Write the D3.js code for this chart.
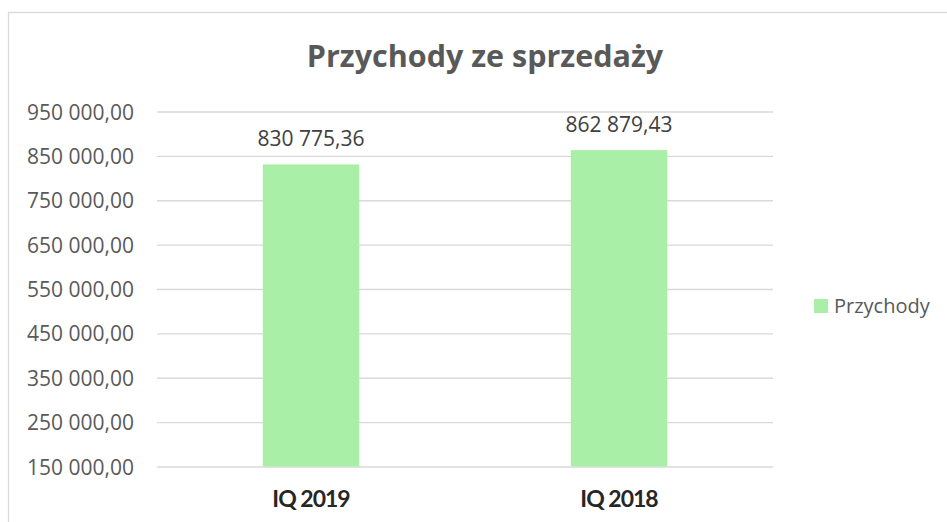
<!DOCTYPE html>
<html>
<head>
<meta charset="utf-8">
<script src="https://cdnjs.cloudflare.com/ajax/libs/d3/7.8.5/d3.min.js"></script>
<style>
  html, body { margin: 0; padding: 0; background: #fff; }
  svg { display: block; }
</style>
</head>
<body>
<div id="chart"></div>
<script>
// chart data
const categories = ["IQ 2019", "IQ 2018"];
const przychody = [830775.36, 862879.43];
const seriesName = "Przychody";
const yTicks = [150000, 250000, 350000, 450000, 550000, 650000, 750000, 850000, 950000];
const title = "Przychody ze sprzedaży";

const w = 947, h = 522;
const plot = { left: 157, right: 773, top: 111.5, bottom: 466.5 };

const pl = d3.formatLocale({ decimal: ",", thousands: "\u00a0", grouping: [3], currency: ["", " zł"] });
const fmt = pl.format(",.2f");

const svg = d3.select("#chart").append("svg")
  .attr("width", w)
  .attr("height", h);

svg.append("rect")
  .attr("width", w).attr("height", h)
  .style("fill", "#fff");

// chart area border (runs off the right / bottom edges)
svg.append("rect")
  .attr("x", 8.5).attr("y", 12.5)
  .attr("width", w).attr("height", h)
  .style("fill", "none")
  .style("stroke", "#d9d9d9")
  .style("stroke-width", 1.3);

const x = d3.scaleBand()
  .domain(categories)
  .range([plot.left, plot.right])
  .paddingInner(0.687)
  .paddingOuter(0.687 / 2);

const y = d3.scaleLinear()
  .domain([yTicks[0], yTicks[yTicks.length - 1]])
  .range([plot.bottom, plot.top]);

// gridlines + y labels
const yAxis = d3.axisLeft(y)
  .tickValues(yTicks)
  .tickSize(-(plot.right - plot.left))
  .tickPadding(23)
  .tickFormat(fmt);

const gy = svg.append("g")
  .attr("transform", "translate(" + plot.left + ",0)")
  .call(yAxis);
gy.select(".domain").remove();
gy.selectAll(".tick line")
  .style("stroke", "#d9d9d9")
  .style("stroke-width", 1.3);
gy.selectAll(".tick text")
  .style("fill", "#595959")
  .style("font-size", "21px")
  .style("font-family", "'Open Sans', sans-serif")
  .attr("dy", "0.36em");

// bars
svg.selectAll("rect.bar")
  .data(przychody)
  .enter().append("rect")
  .attr("class", "bar")
  .attr("x", (d, i) => x(categories[i]))
  .attr("width", x.bandwidth())
  .attr("y", d => y(d))
  .attr("height", d => y(yTicks[0]) - y(d))
  .style("fill", "#a9efa7");

// data labels
svg.selectAll("text.val")
  .data(przychody)
  .enter().append("text")
  .attr("class", "val")
  .attr("x", (d, i) => x(categories[i]) + x.bandwidth() / 2)
  .attr("y", d => y(d) - 18)
  .attr("text-anchor", "middle")
  .style("fill", "#404040")
  .style("font-size", "21px")
  .style("font-family", "'Open Sans', sans-serif")
  .text(d => fmt(d));

// category axis
const xAxis = d3.axisBottom(x).tickSize(0).tickPadding(0);
const gx = svg.append("g")
  .attr("transform", "translate(0," + plot.bottom + ")")
  .call(xAxis);
gx.select(".domain").remove();
gx.selectAll(".tick text")
  .attr("y", 40)
  .attr("dy", 0)
  .style("fill", "#262626")
  .style("font-size", "23px")
  .style("font-weight", "bold")
  .style("letter-spacing", "-1px")
  .style("font-family", "Lato, sans-serif");

// title
svg.append("text")
  .attr("x", 485)
  .attr("y", 67)
  .attr("text-anchor", "middle")
  .style("fill", "#595959")
  .style("font-size", "30.5px")
  .style("font-weight", "bold")
  .style("font-family", "'Open Sans', sans-serif")
  .text(title);

// legend
const lg = svg.append("g").attr("transform", "translate(814,299)");
lg.append("rect")
  .attr("width", 14).attr("height", 14)
  .style("fill", "#a9efa7");
lg.append("text")
  .attr("x", 20).attr("y", 14)
  .style("fill", "#595959")
  .style("font-size", "20px")
  .style("font-family", "'Open Sans', sans-serif")
  .text(seriesName);
</script>
</body>
</html>
